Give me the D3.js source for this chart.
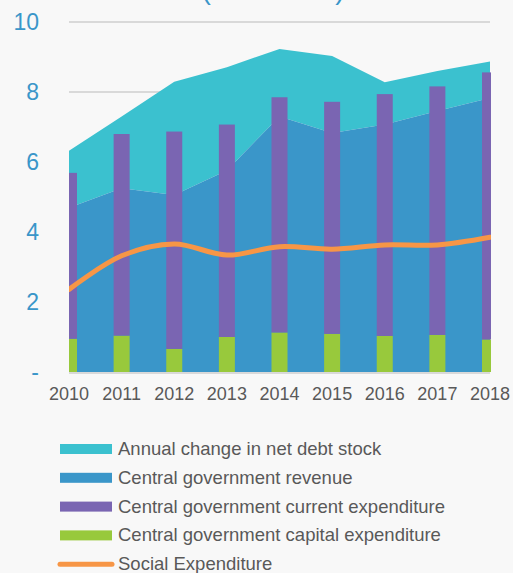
<!DOCTYPE html>
<html>
<head>
<meta charset="utf-8">
<script src="https://cdn.jsdelivr.net/npm/d3@7"></script>
<style>
  body { margin: 0; background: #f8f8f8; }
  svg { display: block; }
  svg text { font-family: Arial, "Liberation Sans", Helvetica, sans-serif; }
</style>
</head>
<body>
<div id="graph"></div>
<script>
const years = ['2010', '2011', '2012', '2013', '2014', '2015', '2016', '2017', '2018'];
const revenue = [4.69, 5.25, 5.06, 5.76, 7.3, 6.83, 7.07, 7.46, 7.83];
const debtChange = [1.63, 2.05, 3.23, 2.95, 1.93, 2.2, 1.21, 1.14, 1.04];
const capitalExp = [0.95, 1.04, 0.66, 1.0, 1.13, 1.09, 1.03, 1.06, 0.93];
const currentExp = [4.74, 5.76, 6.21, 6.07, 6.72, 6.63, 6.91, 7.1, 7.63];
const socialExp = [2.36, 3.32, 3.66, 3.34, 3.58, 3.51, 3.63, 3.63, 3.85];
const yTicks = [0, 2, 4, 6, 8, 10];
const legendItems = ['Annual change in net debt stock', 'Central government revenue',
  'Central government current expenditure', 'Central government capital expenditure', 'Social Expenditure'];

const colors = ['#3bc1cf', '#3a96c9', '#7a65b2', '#98c93c', '#f79646'];

let width = 513,
    height = 573,
    left = 69,
    right = 490,
    x = d3.scalePoint()
          .domain(years)
          .range([left, right]),
    y = d3.scaleLinear()
          .domain([0, 10])
          .range([372, 22]),
    svg = d3.select('#graph')
            .append('svg')
              .attr('width', width)
              .attr('height', height);

// title, mostly cut off at the top
svg.append('text')
    .attr('x', 273)
    .attr('y', -1)
    .attr('text-anchor', 'middle')
    .style('font-size', '28px')
    .attr('fill', '#3a96c9')
    .text('(% of GDP)');

svg.append('defs')
  .append('clipPath')
    .attr('id', 'plot')
  .append('rect')
    .attr('x', left)
    .attr('y', 0)
    .attr('width', right - left + 1)
    .attr('height', 380);

// gridlines
svg.append('g')
    .selectAll('line')
    .data(yTicks.slice(1))
    .enter()
      .append('line')
        .attr('x1', left)
        .attr('x2', right)
        .attr('y1', d => y(d))
        .attr('y2', d => y(d))
        .attr('stroke', '#d9d9d9')
        .attr('stroke-width', 2);

let plot = svg.append('g').attr('clip-path', 'url(#plot)');

// debt change stacked on revenue
let stackTop = years.map((yr, i) => revenue[i] + debtChange[i]);

plot.append('path')
    .datum(years)
    .attr('fill', colors[0])
    .attr('d', d3.area()
      .x(d => x(d))
      .y0((d, i) => y(revenue[i]))
      .y1((d, i) => y(stackTop[i])));

plot.append('path')
    .datum(years)
    .attr('fill', colors[1])
    .attr('d', d3.area()
      .x(d => x(d))
      .y0(y(0))
      .y1((d, i) => y(revenue[i])));

let barW = 16;

plot.selectAll('.capital')
    .data(years)
    .enter()
      .append('rect')
        .attr('class', 'capital')
        .attr('x', d => x(d) - barW / 2)
        .attr('width', barW)
        .attr('y', (d, i) => y(capitalExp[i]))
        .attr('height', (d, i) => y(0) - y(capitalExp[i]))
        .attr('fill', colors[3]);

plot.selectAll('.current')
    .data(years)
    .enter()
      .append('rect')
        .attr('class', 'current')
        .attr('x', d => x(d) - barW / 2)
        .attr('width', barW)
        .attr('y', (d, i) => y(capitalExp[i] + currentExp[i]))
        .attr('height', (d, i) => y(capitalExp[i]) - y(capitalExp[i] + currentExp[i]))
        .attr('fill', colors[2]);

plot.append('path')
    .datum(years)
    .attr('fill', 'none')
    .attr('stroke', colors[4])
    .attr('stroke-width', 5)
    .attr('stroke-linecap', 'round')
    .attr('d', d3.line()
      .x(d => x(d))
      .y((d, i) => y(socialExp[i]))
      .curve(d3.curveCatmullRom));

// baseline
svg.append('line')
    .attr('x1', left)
    .attr('x2', right)
    .attr('y1', y(0) + 1)
    .attr('y2', y(0) + 1)
    .attr('stroke', '#d9d9d9')
    .attr('stroke-width', 2);

// y labels
svg.append('g')
    .selectAll('text')
    .data(yTicks)
    .enter()
      .append('text')
        .attr('x', 39)
        .attr('y', d => y(d) + 8)
        .attr('text-anchor', 'end')
        .style('font-size', '23px')
        .attr('fill', '#3a96c9')
        .text(d => d === 0 ? '-' : d);

// x labels
svg.append('g')
    .selectAll('text')
    .data(years)
    .enter()
      .append('text')
        .attr('x', d => x(d))
        .attr('y', 400)
        .attr('text-anchor', 'middle')
        .style('font-size', '18px')
        .attr('fill', '#595959')
        .text(d => d);

// legend
let legend = svg.append('g')
    .selectAll('g')
    .data(legendItems)
    .enter()
      .append('g')
        .attr('transform', (d, i) => `translate(60,${449 + i * 28.8})`);

legend.each(function(d, i) {
  let g = d3.select(this);
  if (i === 4) {
    g.append('line')
        .attr('x1', 0).attr('x2', 52)
        .attr('y1', 0).attr('y2', 0)
        .attr('stroke', colors[4])
        .attr('stroke-width', 5)
        .attr('stroke-linecap', 'round');
  } else {
    g.append('rect')
        .attr('x', 0)
        .attr('y', -5)
        .attr('width', 52)
        .attr('height', 10)
        .attr('fill', colors[i]);
  }
});

legend.append('text')
    .attr('x', 58)
    .attr('y', 6)
    .style('font-size', '18.5px')
    .attr('fill', '#595959')
    .text(d => d);
</script>
</body>
</html>
